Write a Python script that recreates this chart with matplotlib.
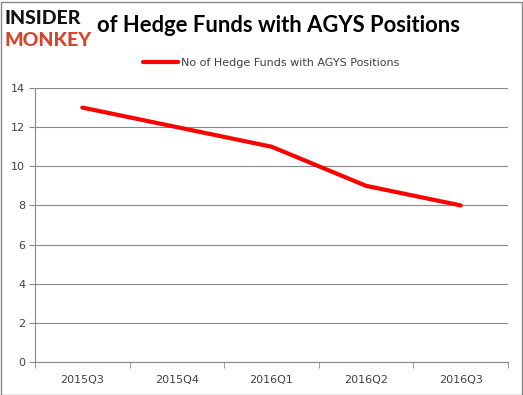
import matplotlib.pyplot as plt
import numpy as np
from matplotlib.patches import Rectangle

quarters = ['2015Q3', '2015Q4', '2016Q1', '2016Q2', '2016Q3']
funds = [13, 12, 11, 9, 8]
yticks = [0, 2, 4, 6, 8, 10, 12, 14]

fig = plt.figure(figsize=(5.23, 3.95), dpi=100)
ax = fig.add_axes([35/523, 1 - 362/395, 473/523, 274/395])

x = np.arange(len(quarters))
ax.plot(x, funds, color='#ff0000', linewidth=3, solid_capstyle='round',
        label='No of Hedge Funds with AGYS Positions')

ax.set_xlim(-0.5, len(quarters) - 0.5)
ax.set_ylim(0, 14)
ax.set_yticks(yticks)
ax.set_xticks(x)
ax.set_xticklabels(quarters)
ax.set_xticks(np.arange(-0.5, len(quarters)), minor=True)
ax.tick_params(axis='x', which='major', length=0, pad=9, labelsize=8, labelcolor='#404040')
ax.tick_params(axis='x', which='minor', length=4, color='#888888', direction='out')
ax.tick_params(axis='y', length=4, color='#888888', labelsize=8, labelcolor='#404040', pad=3)
ax.grid(axis='y', color='#888888', linewidth=0.8)
ax.set_axisbelow(True)
for s in ['top', 'right']:
    ax.spines[s].set_visible(False)
for s in ['left', 'bottom']:
    ax.spines[s].set_color('#888888')

leg = ax.legend(loc='center', frameon=False, fontsize=8, handlelength=3.2,
                handletextpad=0.2, borderaxespad=0,
                bbox_to_anchor=(271/523, 1 - 63/395), bbox_transform=fig.transFigure)
for t in leg.get_texts():
    t.set_color('#404040')

# logo
fig.text(5/523, 1 - 18/395, 'INSIDER', fontsize=14, fontweight='black', color='#111111',
         va='center', ha='left', family='Lato')
fig.text(5/523, 1 - 40/395, 'MONKEY', fontsize=14, fontweight='black', color='#d9412b',
         va='center', ha='left', family='Lato')
fig.text(97/523, 1 - 26/395, 'of Hedge Funds with AGYS Positions', fontsize=15.8,
         fontweight='bold', color='black', va='center', ha='left', family='Lato')

fig.patches.append(Rectangle((0.5/523, 0.5/395), 521/523, 393/395, transform=fig.transFigure,
                             fill=False, edgecolor='#888888', linewidth=1))

fig.savefig('out.png', dpi=100)
